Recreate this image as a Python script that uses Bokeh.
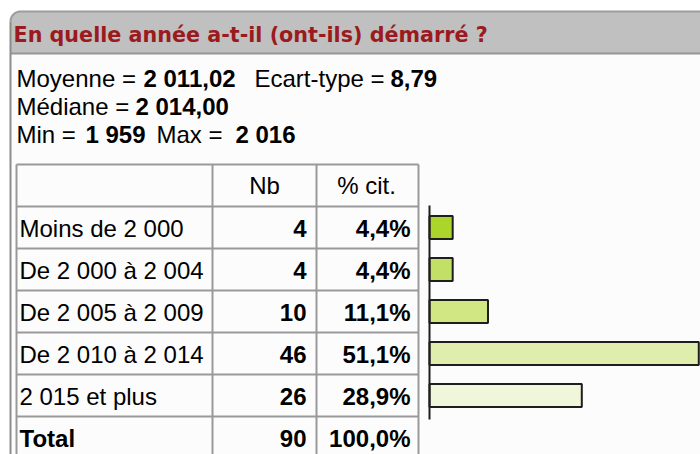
import numpy as np
from bokeh.plotting import figure
from bokeh.models import Range1d, ColumnDataSource
from bokeh.embed import file_html
from bokeh.resources import INLINE
from bokeh.core.properties import value

# ---------------- data ----------------
title = "En quelle année a-t-il (ont-ils) démarré ?"
categories = ["Moins de 2 000", "De 2 000 à 2 004", "De 2 005 à 2 009",
              "De 2 010 à 2 014", "2 015 et plus"]
counts = [4, 4, 10, 46, 26]
percents = [4.4, 4.4, 11.1, 51.1, 28.9]
total_label = "Total"
total_count = 90
total_percent = 100.0
header = ["", "Nb", "% cit."]
bar_colors = ["#acd52c", "#c3e066", "#d0e783", "#dfeeac", "#eff6d9"]
stat_labels = ["Moyenne =", "Ecart-type =", "Médiane =", "Min =", "Max ="]
stat_values = ["2 011,02", "8,79", "2 014,00", "1 959", "2 016"]


def fmt_pct(v):
    return f"{v:.1f}".replace(".", ",") + "%"


# ---------------- layout (page pixel coordinates) ----------------
W, H = 700, 454
FONT = value("Liberation Sans")
FS = "24px"
DY = -9  # baseline correction for 24px texts

p = figure(width=W, height=H, x_range=Range1d(0, W), y_range=Range1d(H, 0),
           output_backend="svg", toolbar_location=None, min_border=0)
p.min_border_left = p.min_border_right = p.min_border_top = p.min_border_bottom = 0
p.axis.visible = False
p.grid.visible = False
p.outline_line_color = None
p.background_fill_color = "white"
p.border_fill_color = "white"

# panel with rounded top-left corner
r = 10
t = np.linspace(0, np.pi / 2, 12)
arc_x = list(10 + r - r * np.cos(t))
arc_y = list(11 + r - r * np.sin(t))
p.patch(arc_x + [720, 720, 10], arc_y + [11, 470, 470],
        fill_color="#fcfcfc", line_color=None)
p.patch(arc_x + [720, 720, 10], arc_y + [11, 53, 53],
        fill_color="#c0c0c0", line_color=None)
p.line(arc_x + [720], arc_y + [11], line_color="#9c9c9c", line_width=2)
p.line([10, 720], [53, 53], line_color="#959595", line_width=2)
p.line([10, 10], [21, 470], line_color="#8c8c8c", line_width=2)

# title
p.text(x=[13], y=[34], text=[title], text_font=value("DejaVu Sans"),
       text_font_size="20.7px", text_font_style="bold", text_color="#9b1a1e",
       text_baseline="alphabetic", text_align="left")

# statistics lines (label normal + value bold)
stat_x_lab = [16, 254, 16, 16, 156]
stat_x_val = [143, 390, 135, 85, 235]
stat_y = [87 + DY, 87 + DY, 115 + DY, 143 + DY, 143 + DY]
p.text(x=stat_x_lab, y=stat_y, text=stat_labels, text_font=FONT, text_font_size=FS,
       text_color="#000000", text_baseline="alphabetic", text_align="left")
p.text(x=stat_x_val, y=stat_y, text=stat_values, text_font=FONT, text_font_size=FS,
       text_font_style="bold", text_color="#000000", text_baseline="alphabetic",
       text_align="left")

# table grid
col_x = [16, 212, 316, 418]
row_top = 164
row_h = 42
n_rows = len(categories) + 2
row_y = [row_top] + [206 + row_h * k for k in range(n_rows - 1)]
grid_color = "#999999"
p.segment(x0=col_x, x1=col_x, y0=[row_top] * 4, y1=[470] * 4,
          line_color=grid_color, line_width=2)
p.segment(x0=[col_x[0]] * len(row_y), x1=[col_x[-1]] * len(row_y), y0=row_y, y1=row_y,
          line_color=grid_color, line_width=2)

# header
p.text(x=[264, 366], y=[194 + DY, 194 + DY], text=header[1:], text_font=FONT,
       text_font_size=FS, text_color="#000000", text_baseline="alphabetic",
       text_align="center")

# body rows
centers = [227 + row_h * k for k in range(len(categories))]
base = [c + 10 + DY for c in centers]
p.text(x=[19] * len(categories), y=base, text=categories, text_font=FONT,
       text_font_size=FS, text_color="#000000", text_baseline="alphabetic",
       text_align="left")
p.text(x=[306] * len(counts), y=base, text=[str(c) for c in counts], text_font=FONT,
       text_font_size=FS, text_font_style="bold", text_color="#000000",
       text_baseline="alphabetic", text_align="right")
p.text(x=[410] * len(percents), y=base, text=[fmt_pct(v) for v in percents],
       text_font=FONT, text_font_size=FS, text_font_style="bold", text_color="#000000",
       text_baseline="alphabetic", text_align="right")

# total row
ty = 227 + row_h * len(categories) + 10 + DY
p.text(x=[19], y=[ty], text=[total_label], text_font=FONT, text_font_size=FS,
       text_font_style="bold", text_color="#000000", text_baseline="alphabetic",
       text_align="left")
p.text(x=[306, 410], y=[ty, ty], text=[str(total_count), fmt_pct(total_percent)],
       text_font=FONT, text_font_size=FS, text_font_style="bold", text_color="#000000",
       text_baseline="alphabetic", text_align="right")

# bars on a percentage scale
px_per_pct = 5.27
axis_x = 429
p.extra_x_ranges = {"pct": Range1d(start=-axis_x / px_per_pct,
                                   end=(W - axis_x) / px_per_pct)}
src = ColumnDataSource(dict(y=centers, right=percents, color=bar_colors))
p.hbar(y="y", left=0, right="right", height=23, source=src, x_range_name="pct",
       fill_color="color", line_color="#1e1e1e", line_width=2)
p.segment(x0=[0], x1=[0], y0=[205], y1=[419], x_range_name="pct",
          line_color="#1e1e1e", line_width=2)

open("out.html", "w").write(file_html(p, INLINE))
